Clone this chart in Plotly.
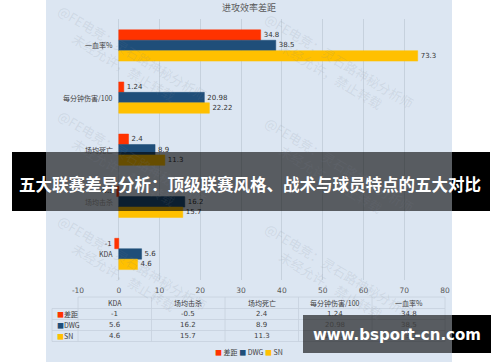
import plotly.graph_objects as go

# ---- data ----
categories = ["一血率%", "每分钟伤害/100", "场均死亡", "场均击杀", "KDA"]
gap_values = [34.8, 1.24, 2.4, -0.5, -1]
dwg_values = [38.5, 20.98, 8.9, 16.2, 5.6]
sn_values = [73.3, 22.22, 11.3, 15.7, 4.6]
series_names = ["差距", "DWG", "SN"]
series_colors = ["#FF3300", "#1F4E79", "#FFC000"]
x_ticks = [-10, 0, 10, 20, 30, 40, 50, 60, 70, 80]
table_columns = ["KDA", "场均击杀", "场均死亡", "每分钟伤害/100", "一血率%"]
chart_title = "进攻效率差距"
banner_text = "五大联赛差异分析：顶级联赛风格、战术与球员特点的五大对比"
site_text = "www.bsport-cn.com"
mark_line1 = "@FE电竞：灵石路神秘分析师"
mark_line2 = "未经允许，禁止转载"

W, H = 500, 362
CJK = "Noto Sans CJK SC"


def fx(p):
    return p / W


def fy(p):
    return 1 - p / H


def fmt(v):
    return f"{v:g}"


series_values = [gap_values, dwg_values, sn_values]

fig = go.Figure()
for name, vals, col in zip(series_names, series_values, series_colors):
    fig.add_trace(go.Bar(
        y=categories, x=vals, orientation="h", name=name,
        marker=dict(color=col, line=dict(color=col, width=0.5)),
        text=[fmt(v) for v in vals], textposition="outside",
        textfont=dict(size=7, color="#333333", family="DejaVu Sans"),
        cliponaxis=False, showlegend=False,
    ))

shapes = []
# chart panel background
shapes.append(dict(type="rect", xref="paper", yref="paper",
                   x0=fx(46), x1=fx(452), y0=0, y1=1,
                   fillcolor="#dce6f2", line=dict(width=0), layer="below"))

# data table grid
grid_col = "#c6d1dd"
col_edges = [78, 151.5, 225, 298.5, 372, 445]
row_edges = [297, 308.5, 319.5, 330.5, 341.5]
for i, yy in enumerate(row_edges):
    x_start = 78 if i == 0 else 52
    shapes.append(dict(type="line", xref="paper", yref="paper",
                       x0=fx(x_start), x1=fx(445), y0=fy(yy), y1=fy(yy),
                       line=dict(color=grid_col, width=0.8), layer="below"))
shapes.append(dict(type="line", xref="paper", yref="paper",
                   x0=fx(52), x1=fx(52), y0=fy(308.5), y1=fy(341.5),
                   line=dict(color=grid_col, width=0.8), layer="below"))
for xx in col_edges:
    shapes.append(dict(type="line", xref="paper", yref="paper",
                       x0=fx(xx), x1=fx(xx), y0=fy(297), y1=fy(341.5),
                       line=dict(color=grid_col, width=0.8), layer="below"))

# headline banner across the chart
for x0, x1, fill in [(12, 46, "#000000"), (46, 452, "rgba(0,0,0,0.6)"),
                     (452, 490, "#000000")]:
    shapes.append(dict(type="rect", xref="paper", yref="paper",
                       x0=fx(x0), x1=fx(x1), y0=fy(211), y1=fy(152),
                       fillcolor=fill, line=dict(width=0), layer="above"))
# site badge
for x0, x1, fill in [(303, 452, "rgba(0,0,0,0.6)"), (452, 491, "#000000")]:
    shapes.append(dict(type="rect", xref="paper", yref="paper",
                       x0=fx(x0), x1=fx(x1), y0=fy(353), y1=fy(315),
                       fillcolor=fill, line=dict(width=0), layer="above"))


def label(px, py, text, size=7, color="#404040", family=CJK, anchor="center", **kw):
    return dict(xref="paper", yref="paper", x=fx(px), y=fy(py), text=text,
                showarrow=False, xanchor=anchor, yanchor="middle",
                font=dict(family=family, size=size, color=color), **kw)


ann = []
# faint diagonal watermarks
for cx, cy in [(128, 60), (335, 68), (128, 165), (335, 172), (128, 270), (335, 278)]:
    ann.append(label(cx, cy, mark_line1 + "<br>" + mark_line2, size=13,
                     color="rgba(120,130,145,0.14)", textangle=31, align="center"))

# title
ann.append(label(249, 8, chart_title, size=9, color="#595959"))

# category labels next to the zero line
for c in categories:
    ann.append(dict(xref="x", yref="y", x=0, y=c, text=c, showarrow=False,
                    xanchor="right", yanchor="middle", xshift=-4,
                    font=dict(family=CJK, size=7, color="#404040")))

# data table
col_centers = [(a + b) / 2 for a, b in zip(col_edges[:-1], col_edges[1:])]
for cx, col in zip(col_centers, table_columns):
    ann.append(label(cx, 303, col))
row_ys = [314, 325, 336]
for ry, name, vals, color in zip(row_ys, series_names, series_values, series_colors):
    ann.append(label(55, ry, f"<span style='color:{color}'>■</span>{name}", anchor="left"))
    by_cat = dict(zip(categories, vals))
    for cx, col in zip(col_centers, table_columns):
        ann.append(label(cx, ry, fmt(by_cat[col]), family="DejaVu Sans"))

# legend
legend_text = " ".join(f"<span style='color:{c}'>■</span> {n}"
                       for n, c in zip(series_names, series_colors))
ann.append(label(249, 352, legend_text))

# banner and badge texts
ann.append(label(250, 184, f"<b>{banner_text}</b>", size=16.5, color="#ffffff"))
ann.append(label(397, 335, f"<b>{site_text}</b>", size=15, color="#ffffff",
                 family="DejaVu Sans"))

fig.update_layout(
    width=W, height=H, autosize=False,
    margin=dict(l=0, r=0, t=0, b=0),
    paper_bgcolor="#ffffff", plot_bgcolor="rgba(0,0,0,0)",
    barmode="group", bargap=0.4, bargroupgap=0,
    shapes=shapes, annotations=ann,
    xaxis=dict(domain=[fx(78), fx(445)], range=[-10, 80],
               tickmode="array", tickvals=x_ticks, ticktext=[str(t) for t in x_ticks],
               showgrid=True, gridcolor="#c6d1dd", gridwidth=0.8,
               zeroline=False, showline=False, ticks="", automargin=False,
               ticklabelstandoff=4,
               tickfont=dict(family="DejaVu Sans", size=7.5, color="#595959")),
    yaxis=dict(domain=[fy(280), fy(19.4)], categoryorder="array",
               categoryarray=categories, autorange="reversed", automargin=False,
               showticklabels=False, showgrid=False, zeroline=False, ticks=""),
)

fig.write_html("out.html")
